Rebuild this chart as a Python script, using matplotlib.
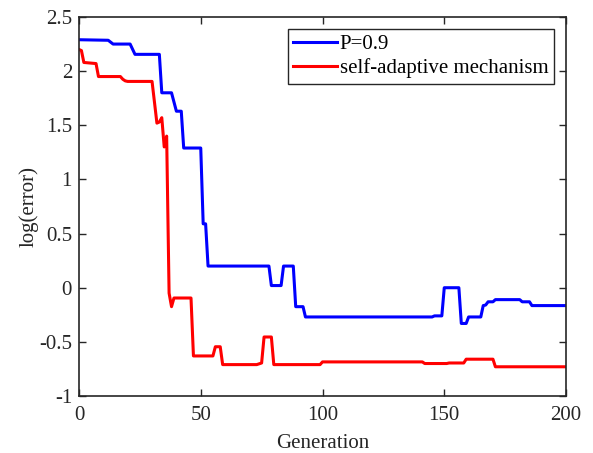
import matplotlib
matplotlib.use('Agg')
import matplotlib.pyplot as plt

# P=0.9 curve (generation, log error) at the points where it changes
gen_p09 = [0, 12, 14, 21, 23, 33, 34, 38, 40, 42, 43, 50, 51, 52, 53, 78, 79, 83, 84,
           88, 89, 92, 93, 145, 146, 149, 150, 156, 157, 159, 160, 165, 166, 167,
           168, 170, 171, 181, 182, 185, 186, 200]
err_p09 = [2.29, 2.285, 2.25, 2.25, 2.155, 2.155, 1.80, 1.80, 1.63, 1.63, 1.29, 1.29,
           0.59, 0.59, 0.20, 0.20, 0.02, 0.02, 0.20, 0.20, -0.175, -0.175, -0.27,
           -0.27, -0.26, -0.26, 0.0, 0.0, -0.33, -0.33, -0.27, -0.27, -0.165, -0.16,
           -0.13, -0.13, -0.11, -0.11, -0.13, -0.13, -0.165, -0.165]

# self-adaptive mechanism curve
gen_sa = [0, 1, 2, 7, 8, 17, 18, 19, 20, 30, 32, 33, 34, 35, 36, 37, 38, 39, 46, 47,
          55, 56, 58, 59, 73, 75, 76, 79, 80, 99, 100, 141, 142, 151, 152, 158, 159,
          170, 171, 200]
err_sa = [2.20, 2.19, 2.08, 2.07, 1.95, 1.95, 1.925, 1.91, 1.905, 1.905, 1.52, 1.53,
          1.57, 1.30, 1.40, -0.05, -0.175, -0.095, -0.095, -0.63, -0.63, -0.545,
          -0.545, -0.71, -0.71, -0.695, -0.455, -0.455, -0.71, -0.71, -0.685, -0.685,
          -0.70, -0.70, -0.695, -0.695, -0.66, -0.66, -0.73, -0.73]

x_ticks = [0, 50, 100, 150, 200]
y_ticks = [-1, -0.5, 0, 0.5, 1, 1.5, 2, 2.5]

plt.rcParams['font.family'] = ['Liberation Serif', 'DejaVu Serif']
plt.rcParams['axes.unicode_minus'] = False
plt.rcParams['font.size'] = 15

fig = plt.figure(figsize=(5.93, 4.53), dpi=100)
ax = fig.add_axes([0.1332, 0.1258, 0.8213, 0.8367])

ax.plot(gen_p09, err_p09, color='#0000ff', linewidth=2.2, label='P=0.9')
ax.plot(gen_sa, err_sa, color='#ff0000', linewidth=2.2, label='self-adaptive mechanism')

ax.set_xlim(0, 200)
ax.set_ylim(-1, 2.5)
ax.set_xticks(x_ticks)
ax.set_yticks(y_ticks)
ax.set_yticklabels(['-1', '-0.5', '0', '0.5', '1', '1.5', '2', '2.5'])
ax.tick_params(direction='in', top=True, right=True, length=5, width=1,
               labelsize=15, pad=5, color='#262626', labelcolor='#262626')
ax.tick_params(axis='x', pad=7)
for s in ax.spines.values():
    s.set_linewidth(1.2)
    s.set_color('#262626')

ax.set_xlabel('Generation', fontsize=15, color='#262626', labelpad=7)
ax.set_ylabel('log(error)', fontsize=15, color='#262626', labelpad=0)

leg = ax.legend(loc='upper right', fontsize=15, fancybox=False, framealpha=1,
                edgecolor='#262626', borderaxespad=0.6, borderpad=0.25,
                handlelength=2.1, handletextpad=0.15, labelspacing=0.2)
leg.get_frame().set_linewidth(1.0)

fig.savefig('out.png', dpi=100)
